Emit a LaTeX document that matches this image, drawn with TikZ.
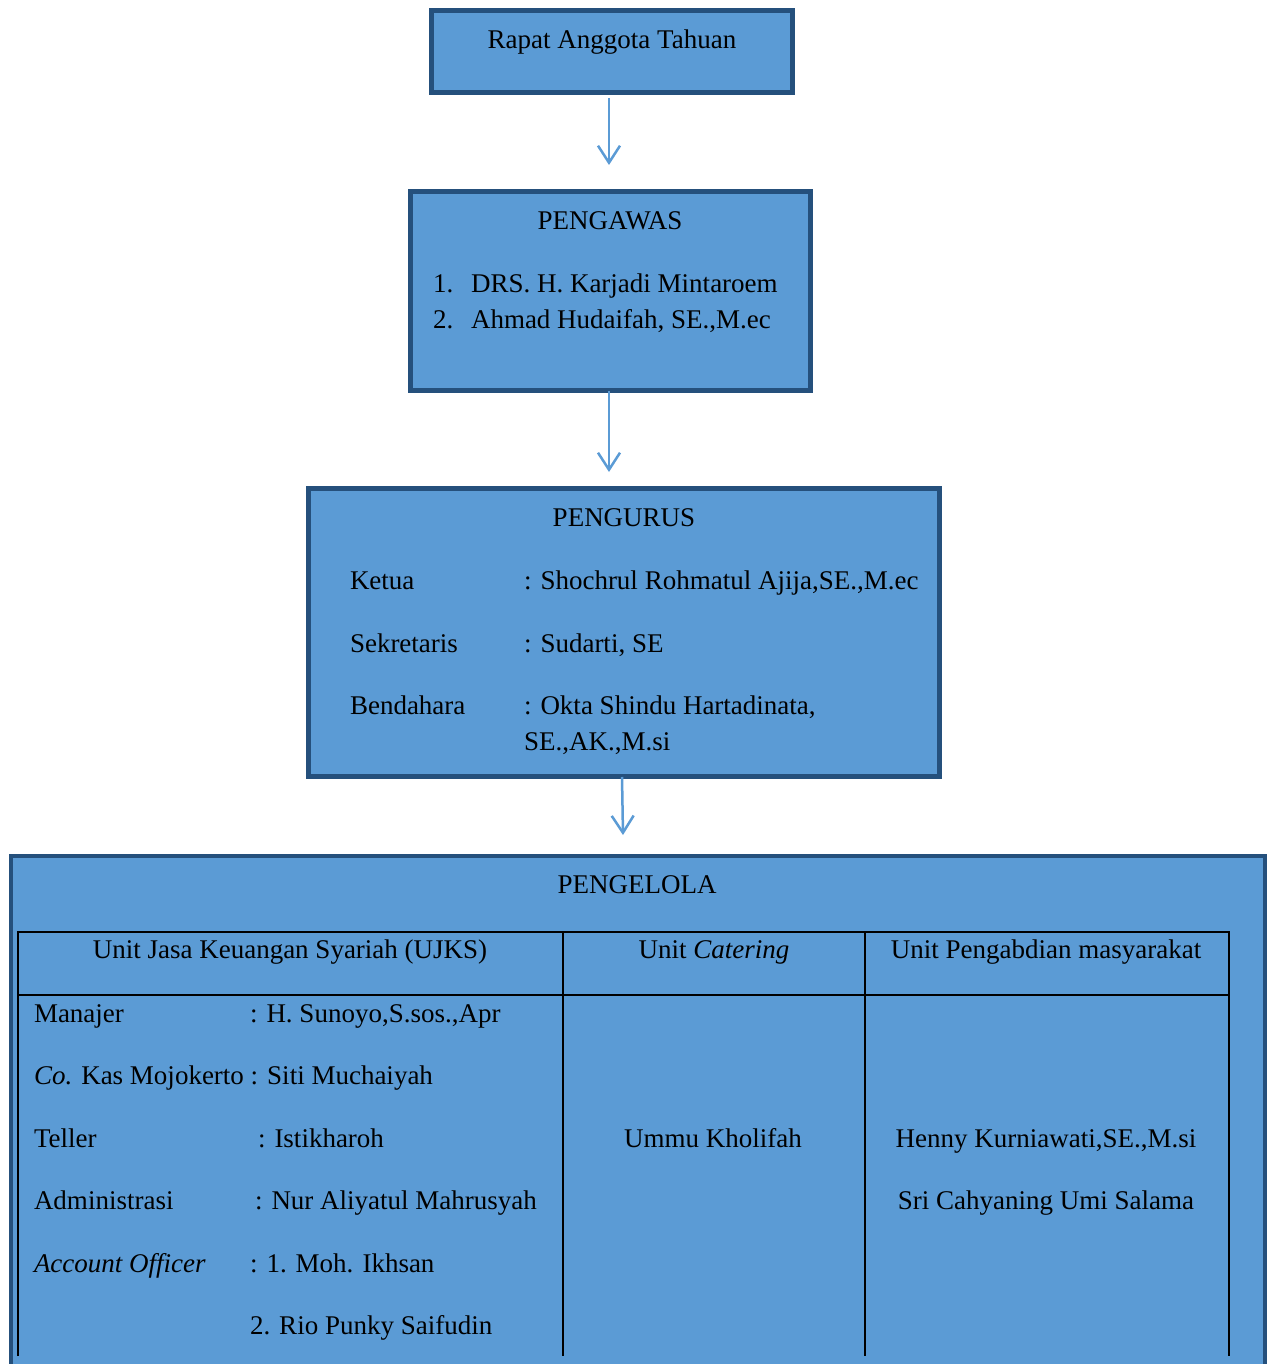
\documentclass[tikz,border=0pt]{standalone}
\usepackage{fontspec}
\setmainfont{Liberation Serif}
\usetikzlibrary{arrows.meta}
\definecolor{boxfill}{HTML}{5B9BD5}
\definecolor{boxline}{HTML}{25507C}
\definecolor{arrowblue}{HTML}{5B9BD5}
\begin{document}
\begin{tikzpicture}[x=1pt,y=-1pt,
  box/.style={draw=boxline, fill=boxfill, line width=5pt, rectangle, inner sep=0pt},
  txt/.style={inner sep=0pt, outer sep=0pt, font=\fontsize{27}{32}\selectfont, text=black},
  lt/.style={txt, anchor=base west},
  ct/.style={txt, anchor=base},
  arr/.style={draw=arrowblue, line width=2.5pt, -{Straight Barb[length=17pt,width=22pt,line width=2.5pt]}},
  tbl/.style={draw=black, line width=2pt}]
\useasboundingbox (0,0) rectangle (1269,1364);
\clip (0,0) rectangle (1269,1364);
\fill[white] (0,0) rectangle (1269,1364);

% boxes
\node[box, minimum width=361pt, minimum height=82pt] (b1) at (612,51.5) {};
\node[box, minimum width=400pt, minimum height=199pt] (b2) at (610.5,291) {};
\node[box, minimum width=631pt, minimum height=288pt] (b3) at (624,632.5) {};
\node[box, line width=4pt, minimum width=1254pt, minimum height=548pt] (b4) at (638,1130) {};

% connectors
\coordinate (t1) at (609,165);
\coordinate (t2) at (609,472);
\coordinate (t3) at (623,835);
\draw[arr, shorten <=3pt] (b1.south -| t1) -- (t1);
\draw[arr] ([yshift=2pt]b2.south -| t2) -- (t2);
\draw[arr] ([xshift=-1pt,yshift=2pt]b3.south -| t3) -- (t3);

% box 1
\node[ct] (r1) at (612,49) {Rapat Anggota Tahuan};

% box 2
\node[ct] (pw) at (610,230) {PENGAWAS};
\node[lt] (pw1n) at (433,292) {1.};
\node[lt] (pw1) at (471,292) {DRS. H. Karjadi Mintaroem};
\node[lt] (pw2n) at (433,328) {2.};
\node[lt] (pw2) at (471,328) {Ahmad Hudaifah, SE.,M.ec};

% box 3
\node[ct] (pg) at (624,526) {PENGURUS};
\node[lt] (k1) at (350,589) {Ketua};
\node[lt] (k2) at (524,589) {: Shochrul Rohmatul Ajija,SE.,M.ec};
\node[lt] (s1) at (350,652) {Sekretaris};
\node[lt] (s2) at (524,652) {: Sudarti, SE};
\node[lt] (bd1) at (350,714) {Bendahara};
\node[lt] (bd2) at (524,714) {: Okta Shindu Hartadinata,};
\node[lt] (bd3) at (524,750) {SE.,AK.,M.si};

% box 4
\node[ct] (pl) at (637,893) {PENGELOLA};
\draw[tbl] (18,1356) -- (18,932) -- (1229,932) -- (1229,1356);
\draw[tbl] (18,995) -- (1229,995);
\draw[tbl] (563,932) -- (563,1356);
\draw[tbl] (865,932) -- (865,1356);

\node[ct] (h1) at (290,958) {Unit Jasa Keuangan Syariah (UJKS)};
\node[ct] (h2) at (714,958) {Unit \textit{Catering}};
\node[ct] (h3) at (1046,958) {Unit Pengabdian masyarakat};

\node[lt] (m1) at (34,1022) {Manajer};
\node[lt] (m2) at (250,1022) {: H. Sunoyo,S.sos.,Apr};
\node[lt] (c1) at (34,1084) {\textit{Co.} Kas Mojokerto : Siti Muchaiyah};
\node[lt] (te1) at (34,1147) {Teller};
\node[lt] (te2) at (258,1147) {: Istikharoh};
\node[lt] (ad1) at (34,1209) {Administrasi};
\node[lt] (ad2) at (255,1209) {: Nur Aliyatul Mahrusyah};
\node[lt] (ao1) at (34,1272) {\textit{Account Officer}};
\node[lt] (ao2) at (250,1272) {: 1. Moh. Ikhsan};
\node[lt] (ao3) at (250,1334) {2. Rio Punky Saifudin};

\node[ct] (uk) at (713,1147) {Ummu Kholifah};
\node[ct] (hk) at (1046,1147) {Henny Kurniawati,SE.,M.si};
\node[ct] (sc) at (1046,1209) {Sri Cahyaning Umi Salama};
\end{tikzpicture}
\end{document}
